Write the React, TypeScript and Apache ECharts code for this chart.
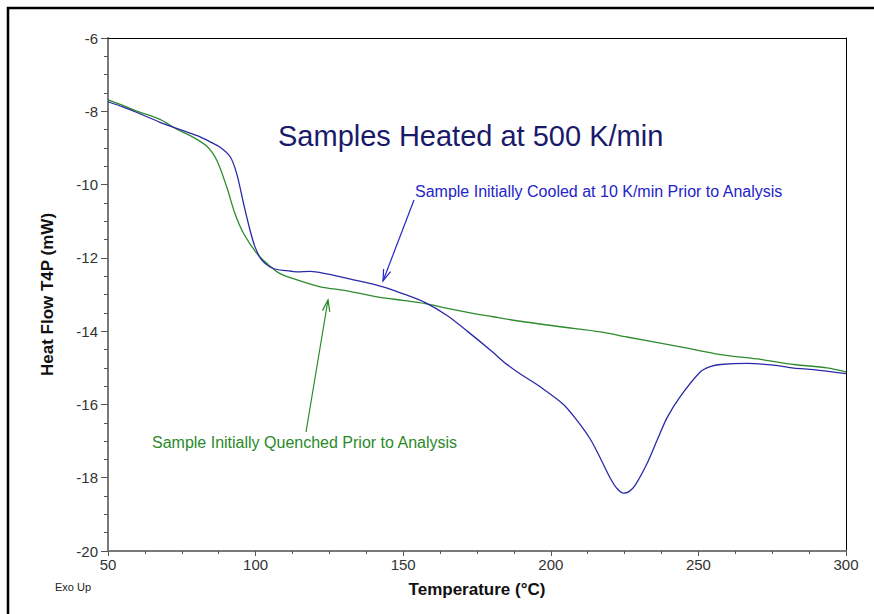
import React, { useEffect, useRef } from "react";
import * as echarts from "echarts";

// Temperature (°C) and heat flow (mW)
const cooledTemp = [50, 55, 60, 67.6, 74.4, 80, 85, 88, 91.4, 93.6, 95.9, 98.1, 99.8, 102.1, 106, 110.6, 114, 118.5, 124.1, 133.2, 142.2, 150, 157.5, 165, 172, 180, 185, 189.7, 196.4, 204.3, 209, 213.4, 216.8, 220.2, 222.5, 224.7, 226.5, 228.6, 232.6, 236, 239.4, 243.9, 250.7, 254, 257.5, 266.5, 275.5, 282.3, 289.1, 300];
const cooledFlow = [-7.74, -7.88, -8.04, -8.3, -8.5, -8.66, -8.85, -8.98, -9.24, -9.7, -10.51, -11.24, -11.7, -12.06, -12.29, -12.35, -12.38, -12.37, -12.44, -12.6, -12.77, -12.98, -13.22, -13.58, -14.02, -14.55, -14.9, -15.17, -15.52, -16.0, -16.45, -16.95, -17.47, -18.02, -18.3, -18.42, -18.38, -18.2, -17.61, -16.98, -16.36, -15.78, -15.11, -14.97, -14.91, -14.88, -14.93, -15.01, -15.05, -15.16];

const quenchedTemp = [50, 55, 60, 67.6, 73.3, 78, 83.4, 86.8, 90.2, 93, 95.9, 100.4, 103.8, 108.3, 115.1, 121.9, 130.9, 142.2, 150, 157.5, 165, 172.7, 180, 189.7, 203.2, 216.8, 225.8, 243.9, 257.5, 271.1, 282.3, 293.6, 300];
const quenchedFlow = [-7.69, -7.84, -8.0, -8.22, -8.49, -8.67, -8.95, -9.33, -10.06, -10.79, -11.33, -11.88, -12.15, -12.43, -12.63, -12.79, -12.9, -13.08, -13.16, -13.25, -13.38, -13.5, -13.6, -13.73, -13.88, -14.02, -14.16, -14.43, -14.64, -14.77, -14.91, -15.0, -15.11];

const xTicks = { min: 50, max: 300, interval: 50 };
const yTicks = { min: -20, max: -6, interval: 2 };

const titleText = "Samples Heated at 500 K/min";
const cooledLabel = "Sample Initially Cooled at 10 K/min Prior to Analysis";
const quenchedLabel = "Sample Initially Quenched Prior to Analysis";
const xName = "Temperature (°C)";
const yName = "Heat Flow T4P (mW)";
const cornerNote = "Exo Up";

const FONT = "Arial, 'Liberation Sans', sans-serif";
const BLUE_LINE = "#2a2aa8";
const GREEN_LINE = "#2e8b2e";

function arrow(x1: number, y1: number, x2: number, y2: number, color: string) {
  const dx = x2 - x1;
  const dy = y2 - y1;
  const len = Math.sqrt(dx * dx + dy * dy);
  const ux = dx / len;
  const uy = dy / len;
  const hl = 12;
  const a = (18 * Math.PI) / 180;
  const rot = (ang: number) => [
    x2 - hl * (ux * Math.cos(ang) - uy * Math.sin(ang)),
    y2 - hl * (ux * Math.sin(ang) + uy * Math.cos(ang)),
  ];
  return [
    { type: "line", shape: { x1, y1, x2, y2 }, style: { stroke: color, lineWidth: 1.2 } },
    { type: "polyline", shape: { points: [rot(a), [x2, y2], rot(-a)] }, style: { stroke: color, lineWidth: 1.2, fill: null } },
  ];
}

export default function App() {
  const ref = useRef<HTMLDivElement>(null);
  useEffect(() => {
    if (!ref.current) return;
    const chart = echarts.init(ref.current, undefined, { renderer: "svg" });
    const cooled = cooledTemp.map((t, i) => [t, cooledFlow[i]]);
    const quenched = quenchedTemp.map((t, i) => [t, quenchedFlow[i]]);
    chart.setOption({
      animation: false,
      backgroundColor: "#ffffff",
      grid: { left: 108, right: 28, top: 38, bottom: 63 },
      xAxis: [
        {
          type: "value",
          min: xTicks.min,
          max: xTicks.max,
          interval: xTicks.interval,
          position: "bottom",
          name: xName,
          nameLocation: "middle",
          nameGap: 30,
          nameTextStyle: { fontFamily: FONT, fontWeight: "bold", fontSize: 17, color: "#111" },
          axisLine: { show: true, onZero: false, lineStyle: { color: "#7a7a7a", width: 2 } },
          axisTick: { show: true, length: 5, lineStyle: { color: "#555", width: 1 } },
          minorTick: { show: true, splitNumber: 4, length: 3, lineStyle: { color: "#555", width: 1 } },
          axisLabel: { fontFamily: FONT, fontSize: 15, color: "#333", margin: 6 },
          splitLine: { show: false },
        },
        {
          type: "value",
          min: xTicks.min,
          max: xTicks.max,
          position: "top",
          axisLine: { show: true, onZero: false, lineStyle: { color: "#000", width: 1 } },
          axisTick: { show: false },
          axisLabel: { show: false },
          splitLine: { show: false },
        },
      ],
      yAxis: [
        {
          type: "value",
          min: yTicks.min,
          max: yTicks.max,
          interval: yTicks.interval,
          position: "left",
          name: yName,
          nameLocation: "middle",
          nameGap: 52,
          nameRotate: 90,
          nameTextStyle: { fontFamily: FONT, fontWeight: "bold", fontSize: 17, color: "#111" },
          axisLine: { show: true, onZero: false, lineStyle: { color: "#7a7a7a", width: 2 } },
          axisTick: { show: true, length: 7, lineStyle: { color: "#555", width: 1 } },
          minorTick: { show: true, splitNumber: 4, length: 4, lineStyle: { color: "#555", width: 1 } },
          axisLabel: { fontFamily: FONT, fontSize: 15, color: "#333", margin: 10 },
          splitLine: { show: false },
        },
        {
          type: "value",
          min: yTicks.min,
          max: yTicks.max,
          position: "right",
          axisLine: { show: true, onZero: false, lineStyle: { color: "#000", width: 1 } },
          axisTick: { show: false },
          axisLabel: { show: false },
          splitLine: { show: false },
        },
      ],
      series: [
        {
          type: "line",
          data: quenched,
          showSymbol: false,
          smooth: 0.3,
          lineStyle: { color: GREEN_LINE, width: 1.3 },
          z: 2,
        },
        {
          type: "line",
          data: cooled,
          showSymbol: false,
          smooth: 0.3,
          lineStyle: { color: BLUE_LINE, width: 1.3 },
          z: 3,
        },
      ],
      graphic: [
        {
          type: "rect",
          shape: { x: 8, y: 8, width: 900, height: 700 },
          style: { fill: null, stroke: "#000", lineWidth: 2.5 },
          silent: true,
        },
        {
          type: "text",
          x: 278,
          y: 136,
          style: { text: titleText, fontFamily: FONT, fontSize: 29, fill: "#1a1a6a", textVerticalAlign: "middle" },
        },
        {
          type: "text",
          x: 415,
          y: 191,
          style: { text: cooledLabel, fontFamily: FONT, fontSize: 16, fill: "#2424c8", textVerticalAlign: "middle" },
        },
        {
          type: "text",
          x: 152,
          y: 442,
          style: { text: quenchedLabel, fontFamily: FONT, fontSize: 16, fill: "#2a8a2a", textVerticalAlign: "middle" },
        },
        {
          type: "text",
          x: 55,
          y: 587,
          style: { text: cornerNote, fontFamily: FONT, fontSize: 11, fill: "#222", textVerticalAlign: "middle" },
        },
        ...arrow(414, 200, 383, 281, "#2424c8"),
        ...arrow(306, 432, 328, 300, "#2a8a2a"),
      ],
    });
    return () => chart.dispose();
  }, []);
  return (
    <div
      ref={ref}
      style={{ position: "absolute", left: 0, top: 0, width: 874, height: 614 }}
    />
  );
}
